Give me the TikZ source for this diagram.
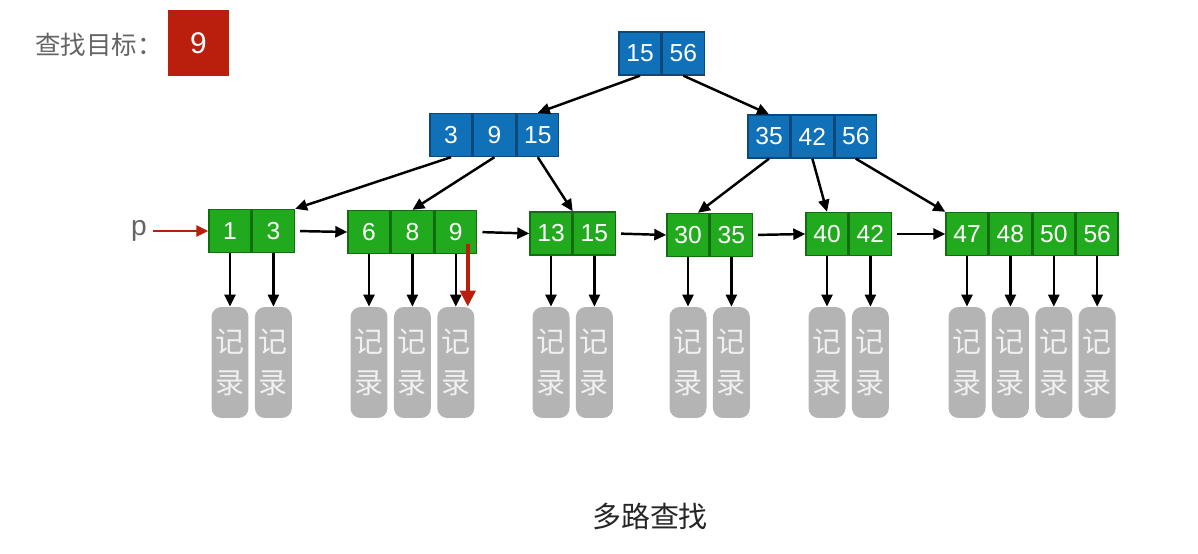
\documentclass[tikz,border=0pt]{standalone}
\usepackage{fontspec}
\setmainfont{Liberation Sans}
\newfontfamily\cjk{Noto Sans CJK SC}
\usetikzlibrary{arrows.meta,positioning}
\definecolor{KeyBlue}{RGB}{16,112,184}
\definecolor{KeyBlueLine}{RGB}{12,72,122}
\definecolor{LeafGreen}{RGB}{34,170,30}
\definecolor{LeafGreenLine}{RGB}{18,108,16}
\definecolor{HitRed}{RGB}{186,30,12}
\definecolor{RecGray}{RGB}{180,180,180}
\definecolor{LabelGray}{RGB}{100,100,100}

\tikzset{
  keycell/.style={draw=KeyBlueLine, fill=KeyBlue, line width=0.8pt, minimum width=0.84cm, minimum height=0.86cm, inner sep=0pt, text=white, font=\fontsize{14}{16}\selectfont},
  leafcell/.style={keycell, draw=LeafGreenLine, fill=LeafGreen},
  record/.style={fill=RecGray, rounded corners=0.2cm, minimum width=0.74cm, minimum height=2.22cm, inner sep=0pt, align=center, text=white!88!gray, font=\cjk\fontsize{16.5}{23}\selectfont},
  link/.style={-{Triangle[length=0.24cm,width=0.22cm]}, line width=1.4pt},
  hit/.style={-{Triangle[length=0.32cm,width=0.3cm]}, line width=2.3pt, HitRed},
}

\begin{document}
\begin{tikzpicture}[x=0.02cm, y=-0.02cm]
  \useasboundingbox (0,0) rectangle (1198,554);

  % search target
  \node[anchor=west, text=LabelGray, font=\cjk\fontsize{14.5}{17}\selectfont] (goallabel) at (29,45) {查找目标：};
  \node[fill=HitRed, minimum width=1.22cm, minimum height=1.32cm, inner sep=0pt, text=white, font=\fontsize{17}{20}\selectfont] (goal) at (198.5,43) {9};

  % root
  \node[keycell] (r15) at (640,53.5) {15};
  \node[keycell, right=0pt of r15] (r56) {56};

  % second level
  \node[keycell] (a3) at (451,135) {3};
  \node[keycell, right=0pt of a3] (a9) {9};
  \node[keycell, right=0pt of a9] (a15) {15};
  \node[keycell] (b35) at (769,136.5) {35};
  \node[keycell, right=0pt of b35] (b42) {42};
  \node[keycell, right=0pt of b42] (b56) {56};

  % leaves
  \node[leafcell] (l1) at (230,231) {1};
  \node[leafcell, right=0pt of l1] (l3) {3};
  \node[leafcell] (l6) at (369,232) {6};
  \node[leafcell, right=0pt of l6] (l8) {8};
  \node[leafcell, right=0pt of l8] (l9) {9};
  \node[leafcell] (l13) at (551,233.5) {13};
  \node[leafcell, right=0pt of l13] (l15) {15};
  \node[leafcell] (l30) at (688,235) {30};
  \node[leafcell, right=0pt of l30] (l35) {35};
  \node[leafcell] (l40) at (827,234) {40};
  \node[leafcell, right=0pt of l40] (l42) {42};
  \node[leafcell] (l47) at (967,234) {47};
  \node[leafcell, right=0pt of l47] (l48) {48};
  \node[leafcell, right=0pt of l48] (l50) {50};
  \node[leafcell, right=0pt of l50] (l56) {56};

  % tree links
  \draw[link] (r15.south) -- (a15.north);
  \draw[link] (r56.south) -- (b35.north);
  \draw[link] (a3.south) -- (l3.north east);
  \draw[link] (a9.south) -- (l8.north);
  \draw[link] (a15.south) -- (l13.north east);
  \draw[link] (b35.south) -- ([xshift=0.2cm]l30.north);
  \draw[link] (b42.south) -- (l40.north);
  \draw[link] (b56.south) -- (l47.north west);

  % leaf chain
  \draw[link, shorten <=0.1cm] (l3.east) -- (l6.west);
  \draw[link, shorten <=0.1cm] (l9.east) -- (l13.west);
  \draw[link, shorten <=0.1cm] (l15.east) -- (l30.west);
  \draw[link, shorten <=0.1cm] (l35.east) -- (l40.west);
  \draw[link, shorten <=0.1cm] (l42.east) -- (l47.west);

  % records
  \coordinate (recrow) at (0,362.5);
  \foreach \c in {1,3,6,8,9,13,15,30,35,40,42,47,48,50,56} {
    \node[record] (k\c) at (l\c |- recrow) {记\\录};
    \draw[link] (l\c) -- (k\c);
  }

  % pointer p and the hit
  \node[text=LabelGray, font=\fontsize{16}{18}\selectfont] (p) at (139,231) {p};
  \draw[hit, line width=1.4pt, -{Triangle[length=0.24cm,width=0.22cm]}] (p) -- (l1);
  \coordinate (hitstart) at ([xshift=0.24cm,yshift=0.2cm]l9.south);
  \draw[hit] (hitstart) -- (hitstart |- k9.north);

  \node[font=\cjk\fontsize{16.5}{18}\selectfont, text=black!85] (caption) at (650,516) {多路查找};
\end{tikzpicture}
\end{document}
